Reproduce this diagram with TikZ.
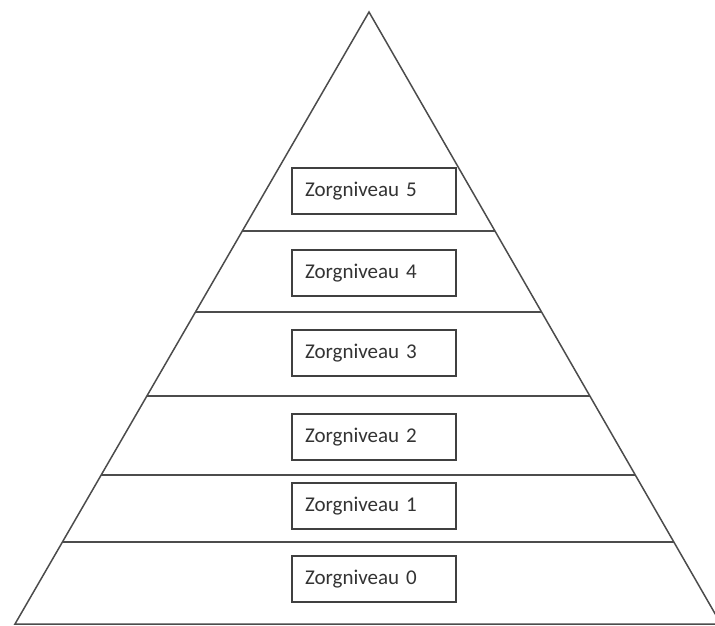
\documentclass[tikz,border=0pt]{standalone}
\usepackage{fontspec}
\setmainfont{Carlito}
\usetikzlibrary{calc}
\tikzset{
  level/.style={draw=black!75, line width=1.3pt, fill=white, text=black!80,
    font=\fontsize{21}{24}\selectfont, text width=138pt, inner xsep=13pt,
    inner ysep=0pt, minimum height=46pt, align=left},
  edge/.style={draw=black!70, line width=1.5pt}
}
\begin{document}
\begin{tikzpicture}[x=1pt,y=-1pt]
\useasboundingbox (0,0) rectangle (715,626);
\clip (0,0) rectangle (715,626);
\coordinate (top) at (369,12);
\coordinate (bl) at (15,624);
\coordinate (br) at (721,624);
\path[edge, line join=miter] (top) -- (bl) -- (br) -- cycle;
\foreach \t in {0.3578,0.4902,0.6275,0.7565,0.8660}
  \path[edge] ($(top)!\t!(bl)$) -- ($(top)!\t!(br)$);

\node[level] (z5) at (374,191) {Zorgniveau 5};
\node[level] (z4) at (374,273) {Zorgniveau 4};
\node[level] (z3) at (374,353) {Zorgniveau 3};
\node[level] (z2) at (374,437) {Zorgniveau 2};
\node[level] (z1) at (374,506) {Zorgniveau 1};
\node[level] (z0) at (374,579) {Zorgniveau 0};
\end{tikzpicture}
\end{document}
